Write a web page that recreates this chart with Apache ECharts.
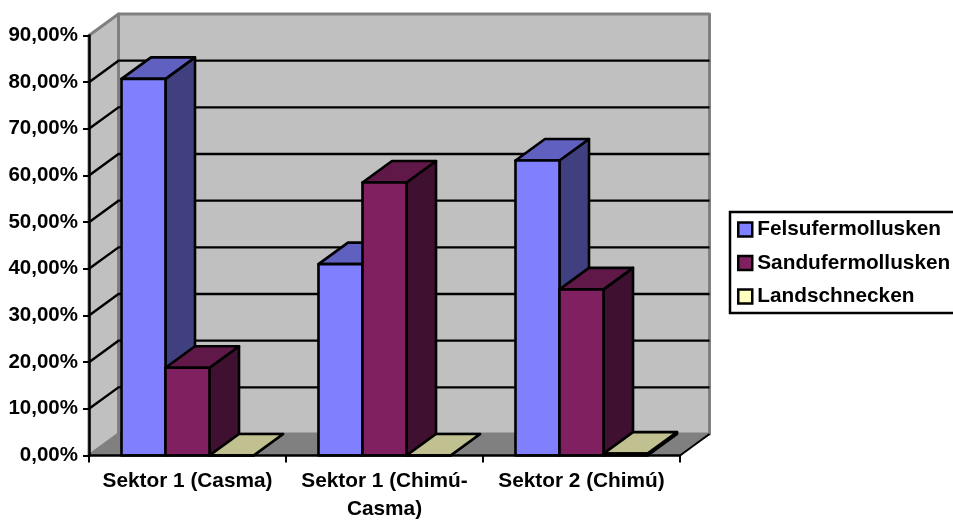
<!DOCTYPE html>
<html>
<head>
<meta charset="utf-8">
<style>html,body{margin:0;padding:0;background:#fff}#chart{width:953px;height:520px}</style>
<script src="https://cdn.jsdelivr.net/npm/echarts@6/dist/echarts.min.js"></script>
</head>
<body>
<div id="chart"></div>
<script>
// Shell composition by sector, drawn as a 3D-look clustered column chart.
const categories = ['Sektor 1 (Casma)', 'Sektor 1 (Chimú-\nCasma)', 'Sektor 2 (Chimú)'];
const felsufer = [80.7, 41.0, 63.2];
const sandufer = [18.8, 58.5, 35.6];
const landschnecken = [0, 0, 0.4];
const gridValues = [10, 20, 30, 40, 50, 60, 70, 80];

// Oblique projection offset of the chart's depth, in pixels.
const DX = 29.5, DY = -21.5;
const BAR_SHARE = 0.2234;
const FONT = '"Liberation Sans", Arial, sans-serif';

const palettes = [
  { front: '#8080FF', top: '#6060C0', side: '#404080' },
  { front: '#802060', top: '#601848', side: '#401030' },
  { front: '#FFFFC0', top: '#C0C090', side: '#808060' }
];

const pts = (...p) => p.map(q => [q[0], q[1]]);
const poly = (points, fill, stroke, lw) => ({
  type: 'polygon',
  shape: { points },
  style: { fill, stroke, lineWidth: lw, lineJoin: 'round' }
});

// One box per data item: front face, then top and right side in projection.
function boxRenderer(seriesIndex) {
  return function (params, api) {
    const pal = palettes[seriesIndex];
    const cat = api.value(0);
    const val = api.value(1);
    const band = api.size([1, 0])[0];
    const w = band * BAR_SHARE;
    const baseP = api.coord([cat, 0]);
    const topP = api.coord([cat, val]);
    const x0 = baseP[0] + (seriesIndex - 1.5) * w;
    const x1 = x0 + w;
    const yb = baseP[1], yt = topP[1];
    return {
      type: 'group',
      children: [
        poly(pts([x1, yt], [x1 + DX, yt + DY], [x1 + DX, yb + DY], [x1, yb]), pal.side, '#000', 2.6),
        poly(pts([x0, yt], [x0 + DX, yt + DY], [x1 + DX, yt + DY], [x1, yt]), pal.top, '#000', 2.6),
        poly(pts([x0, yt], [x1, yt], [x1, yb], [x0, yb]), pal.front, '#000', 2.6)
      ]
    };
  };
}

// Back wall, left wall and floor of the chart box.
function wallsRenderer(params) {
  const c = params.coordSys;
  const l = c.x, r = c.x + c.width, t = c.y, b = c.y + c.height;
  const grey = '#808080';
  return {
    type: 'group',
    children: [
      poly(pts([l, t], [l + DX, t + DY], [l + DX, b + DY], [l, b]), '#C0C0C0', grey, 3),
      poly(pts([l + DX, t + DY], [r + DX, t + DY], [r + DX, b + DY], [l + DX, b + DY]), '#C0C0C0', grey, 3),
      poly(pts([l, b], [l + DX, b + DY], [r + DX, b + DY], [r, b]), grey, grey, 1),
      { type: 'line', shape: { x1: r, y1: b, x2: r + DX, y2: b + DY }, style: { stroke: '#000', lineWidth: 2 } }
    ]
  };
}

// Gridline folded across the left wall and the back wall.
function gridRenderer(params, api) {
  const c = params.coordSys;
  const y = api.coord([0, api.value(0)])[1];
  return {
    type: 'polyline',
    shape: { points: [[c.x, y], [c.x + DX, y + DY], [c.x + c.width + DX, y + DY]] },
    style: { fill: 'none', stroke: '#000', lineWidth: 2.4 }
  };
}

const boxSeries = (name, values, i) => ({
  name,
  type: 'custom',
  z: 5 + i,
  itemStyle: { color: palettes[i].front },
  encode: { x: 0, y: 1 },
  data: values.map((v, k) => [k, v]),
  renderItem: boxRenderer(i)
});

const chart = echarts.init(document.getElementById('chart'), null, { renderer: 'canvas' });
chart.setOption({
  animation: false,
  backgroundColor: '#fff',
  grid: { left: 89, right: 273, top: 35.5, bottom: 64.5, containLabel: false, outerBoundsMode: 'none' },
  xAxis: {
    type: 'category',
    data: categories,
    z: 10,
    axisLine: { lineStyle: { color: '#000', width: 2.5 } },
    axisTick: { show: true, length: 7, lineStyle: { color: '#000', width: 2 } },
    axisLabel: { color: '#000', fontFamily: FONT, fontWeight: 'bold', fontSize: 20.8, margin: 12, lineHeight: 28, interval: 0 }
  },
  yAxis: {
    type: 'value',
    min: 0,
    max: 90,
    interval: 10,
    z: 10,
    splitLine: { show: false },
    axisLine: { show: true, lineStyle: { color: '#000', width: 2.5 } },
    axisTick: { show: true, length: 6, lineStyle: { color: '#000', width: 2 } },
    axisLabel: {
      color: '#000', fontFamily: FONT, fontWeight: 'bold', fontSize: 20.5, margin: 11,
      formatter: v => v.toFixed(2).replace('.', ',') + '%'
    }
  },
  legend: {
    left: 730,
    top: 212,
    orient: 'vertical',
    data: ['Felsufermollusken', 'Sandufermollusken', 'Landschnecken'],
    icon: 'rect',
    itemWidth: 14,
    itemHeight: 14,
    itemGap: 12.5,
    padding: [7, 40, 6, 7],
    borderColor: '#000',
    borderWidth: 2.5,
    backgroundColor: '#fff',
    selectedMode: false,
    itemStyle: { borderColor: '#000', borderWidth: 2.5 },
    textStyle: { color: '#000', fontFamily: FONT, fontWeight: 'bold', fontSize: 20.8, lineHeight: 20, padding: [0, 0, 0, 0] }
  },
  series: [
    { name: 'walls', type: 'custom', z: 1, silent: true, data: [[0]], renderItem: wallsRenderer, encode: { x: 0 } },
    { name: 'gridlines', type: 'custom', z: 2, silent: true, data: gridValues.map(v => [v]), renderItem: gridRenderer, encode: { y: 0 } },
    boxSeries('Felsufermollusken', felsufer, 0),
    boxSeries('Sandufermollusken', sandufer, 1),
    boxSeries('Landschnecken', landschnecken, 2)
  ]
});
</script>
</body>
</html>
